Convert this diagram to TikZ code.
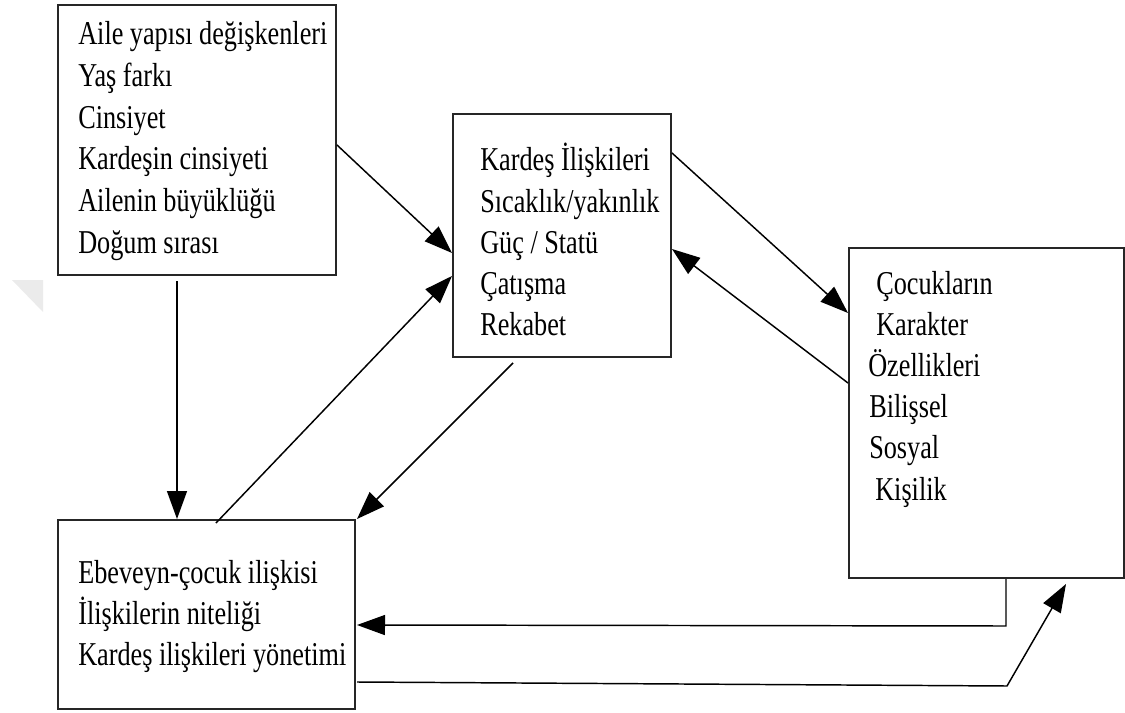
\documentclass[tikz,border=0pt]{standalone}
\usepackage{fontspec}
\setmainfont{Liberation Serif}[FakeStretch=0.787]
\usetikzlibrary{arrows.meta,calc}
\begin{document}
\begin{tikzpicture}[x=0.75pt,y=-0.75pt]
\tikzset{
 box/.style={draw=black!85, line width=1.5pt, rectangle, anchor=north west, inner sep=0},
 txt/.style={anchor=base west, inner sep=0, font=\fontsize{25}{31}\selectfont},
 arr/.style={line width=1.1pt, -{Triangle[length=21pt,width=15pt]}},
 ln/.style={line width=1.1pt}
}
\useasboundingbox (0,0) rectangle (1125,713);
% faint watermark wedge
\fill[black!8] (12,280) -- (43,280) -- (43,312) -- cycle;
% boxes
\node[box, minimum width=278*0.75pt, minimum height=270*0.75pt] (A) at (57,4) {};
\node[box, minimum width=218*0.75pt, minimum height=243*0.75pt] (B) at (452,113) {};
\node[box, minimum width=275*0.75pt, minimum height=330*0.75pt] (C) at (848,247) {};
\node[box, minimum width=297*0.75pt, minimum height=189*0.75pt] (D) at (57,519) {};
% texts box A
\node[txt] (a1) at (78,45) {Aile yapısı değişkenleri};
\node[txt] (a2) at (78,86.6) {Yaş farkı};
\node[txt] (a3) at (78,128.2) {Cinsiyet};
\node[txt] (a4) at (78,169.8) {Kardeşin cinsiyeti};
\node[txt] (a5) at (78,211.4) {Ailenin büyüklüğü};
\node[txt] (a6) at (78,253) {Doğum sırası};
% texts box B
\node[txt] (b1) at (480,171) {Kardeş İlişkileri};
\node[txt] (b2) at (480,212.2) {Sıcaklık/yakınlık};
\node[txt] (b3) at (480,253.4) {Güç / Statü};
\node[txt] (b4) at (480,294.6) {Çatışma};
\node[txt] (b5) at (480,335.8) {Rekabet};
% texts box C
\node[txt] (c1) at (876,294) {Çocukların};
\node[txt] (c2) at (876,335.2) {Karakter};
\node[txt] (c3) at (868,376.4) {Özellikleri};
\node[txt] (c4) at (869,417.6) {Bilişsel};
\node[txt] (c5) at (869,458.8) {Sosyal};
\node[txt] (c6) at (875,500) {Kişilik};
% texts box D
\node[txt] (d1) at (78,583) {Ebeveyn-çocuk ilişkisi};
\node[txt] (d2) at (78,624.3) {İlişkilerin niteliği};
\node[txt] (d3) at (78,665.7) {Kardeş ilişkileri yönetimi};
% connectors
\draw[arr] ([shift={(0,141)}]A.north east) -- ([shift={(0,140)}]B.north west);
\draw[arr] ([shift={(120,5)}]A.south west) -- ([shift={(120,0)}]D.north west);
\draw[arr] ([shift={(159,4)}]D.north west) -- ([shift={(0,163)}]B.north west);
\draw[arr] ([shift={(61,5)}]B.south west) -- ([shift={(1,0)}]D.north east);
\draw[arr] ([shift={(0,40)}]B.north east) -- ([shift={(0,66)}]C.north west);
\draw[arr] ([shift={(0,136)}]C.north west) -- ([shift={(0,136)}]B.north east);
\coordinate (k1) at (1006,626);
\draw[arr] ([shift={(158,0)}]C.south west) -- (k1) -- ([shift={(1,106)}]D.north east);
\coordinate (k2) at (1007,686);
\draw[arr] ([shift={(1,163)}]D.north east) -- (k2) -- ([shift={(218,5)}]C.south west);
\end{tikzpicture}
\end{document}
